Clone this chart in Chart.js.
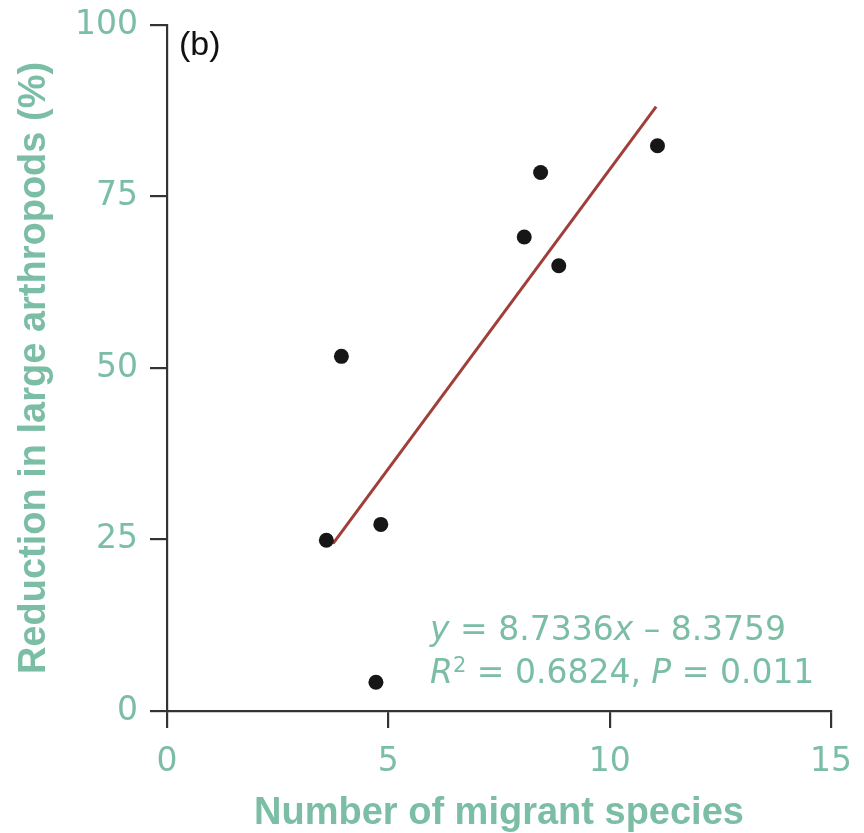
<!DOCTYPE html>
<html>
<head>
<meta charset="utf-8">
<script src="https://cdn.jsdelivr.net/npm/chart.js@4.4.1/dist/chart.umd.min.js"></script>
<style>
html,body{margin:0;padding:0;background:#fff;}
#wrap{width:864px;height:833px;position:relative;}
</style>
</head>
<body>
<div id="wrap"><canvas id="c" width="864" height="833"></canvas></div>
<script>
const migrantSpecies = [3.6, 3.94, 4.83, 4.72, 8.07, 8.44, 8.85, 11.08];
const reductionPct   = [24.9, 51.7, 27.2, 4.2, 69.1, 78.5, 64.9, 82.4];
const fitX = [3.75, 11.05];
const fitY = [24.4, 88.1];
const xTickValues = [0, 5, 10, 15];
const yTickValues = [0, 25, 50, 75, 100];
const panelLabel = '(b)';
const xTitle = 'Number of migrant species';
const yTitle = 'Reduction in large arthropods (%)';

const TEAL = '#7cbda5';
const AXIS = '#333333';
const TITLE_FONT = '"Liberation Sans", Arial, Helvetica, sans-serif';
const TEXT_FONT = '"DejaVu Sans", "Liberation Sans", sans-serif';

const points = migrantSpecies.map((x, i) => ({x: x, y: reductionPct[i]}));
const fitLine = fitX.map((x, i) => ({x: x, y: fitY[i]}));

const textPlugin = {
  id: 'annot',
  afterDraw(chart) {
    const ctx = chart.ctx;
    ctx.save();
    ctx.textBaseline = 'alphabetic';
    ctx.textAlign = 'left';
    // panel label
    ctx.fillStyle = '#111';
    ctx.font = '34px ' + TITLE_FONT;
    ctx.fillText(panelLabel, 179, 55);
    // equation
    ctx.fillStyle = TEAL;
    const drawParts = (parts, x, y) => {
      parts.forEach(p => {
        ctx.font = (p.it ? 'italic ' : '') + (p.size || 33) + 'px ' + TEXT_FONT;
        ctx.fillText(p.t, x, y - (p.sup || 0));
        x += ctx.measureText(p.t).width;
      });
    };
    drawParts([
      {t: 'y', it: true}, {t: ' = 8.7336'}, {t: 'x', it: true}, {t: ' \u2013 8.3759'}
    ], 430, 640);
    drawParts([
      {t: 'R', it: true}, {t: '2', size: 21, sup: 11}, {t: ' = 0.6824, '}, {t: 'P', it: true}, {t: ' = 0.011'}
    ], 430, 683);
    ctx.restore();
  }
};

new Chart(document.getElementById('c'), {
  type: 'scatter',
  data: {
    datasets: [
      {
        label: 'fit',
        data: fitLine,
        showLine: true,
        borderColor: '#a03e3a',
        borderWidth: 3,
        pointRadius: 0,
        order: 2
      },
      {
        label: 'sites',
        data: points,
        pointRadius: 7.5,
        pointBackgroundColor: '#161616',
        pointBorderWidth: 0,
        order: 1
      }
    ]
  },
  options: {
    responsive: false,
    animation: false,
    devicePixelRatio: 1,
    layout: {padding: {top: 25, right: 33, left: 0, bottom: 0}},
    plugins: {legend: {display: false}, tooltip: {enabled: false}},
    scales: {
      x: {
        type: 'linear',
        min: 0, max: 15,
        afterBuildTicks: s => { s.ticks = xTickValues.map(v => ({value: v})); },
        afterFit: s => { s.height = 122; s.paddingLeft = 0; s.paddingRight = 0; },
        grid: {drawOnChartArea: false, drawTicks: true, tickLength: 17, color: AXIS, lineWidth: 2.2},
        border: {display: true, color: AXIS, width: 2.2},
        ticks: {color: TEAL, font: {family: TEXT_FONT, size: 33}, padding: 15, maxRotation: 0},
        title: {display: true, text: xTitle, color: TEAL, font: {family: TITLE_FONT, size: 38, weight: 'bold', lineHeight: 1}, padding: {top: 0, bottom: 0}}
      },
      y: {
        type: 'linear',
        min: 0, max: 100,
        afterBuildTicks: s => { s.ticks = yTickValues.map(v => ({value: v})); },
        afterFit: s => { s.width = 167; s.paddingTop = 0; s.paddingBottom = 0; },
        grid: {drawOnChartArea: false, drawTicks: true, tickLength: 17, color: AXIS, lineWidth: 2.2},
        border: {display: true, color: AXIS, width: 2.2},
        ticks: {color: TEAL, font: {family: TEXT_FONT, size: 33}, padding: 12},
        title: {display: true, text: yTitle, color: TEAL, font: {family: TITLE_FONT, size: 38, weight: 'bold', lineHeight: 1}, padding: {top: 16, bottom: 0}}
      }
    }
  },
  plugins: [textPlugin]
});
</script>
</body>
</html>
